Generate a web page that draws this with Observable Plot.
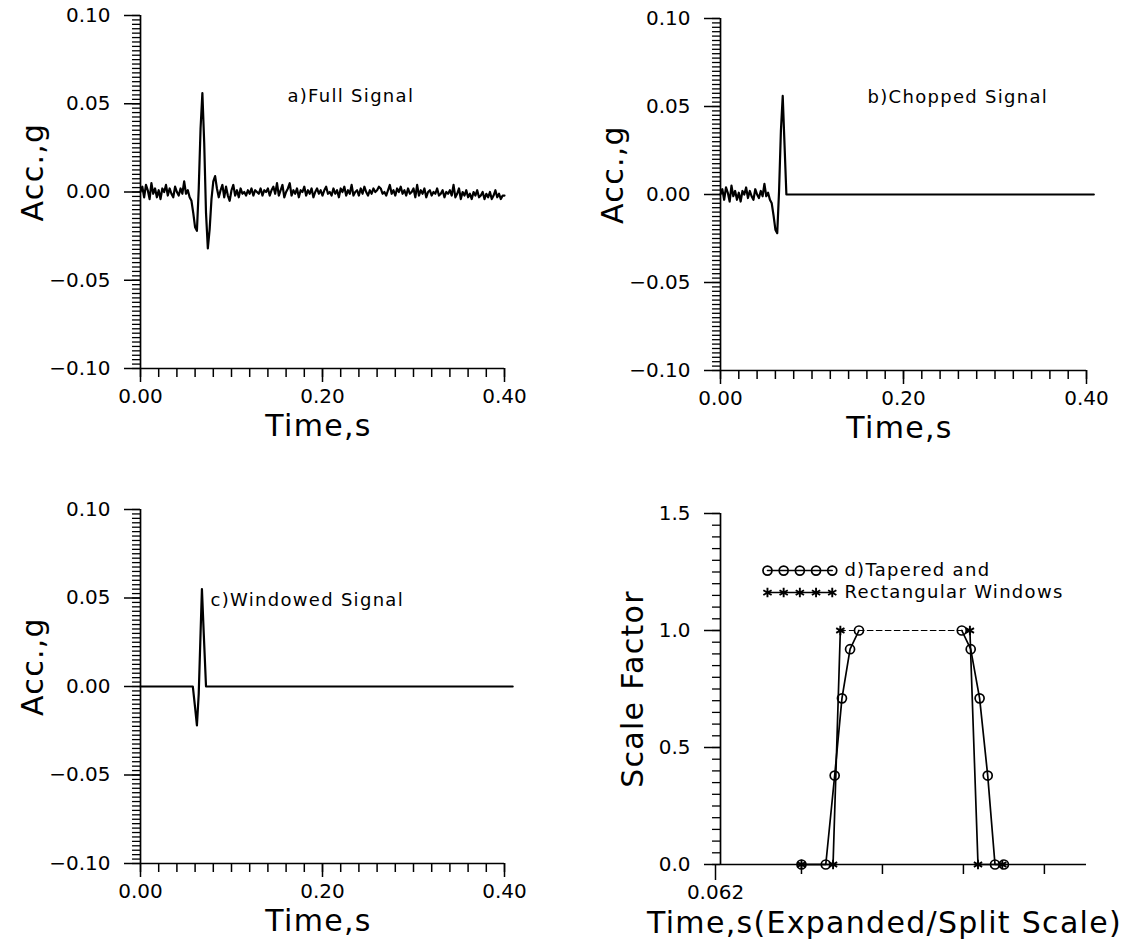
<!DOCTYPE html>
<html>
<head>
<meta charset="utf-8">
<script src="https://cdn.jsdelivr.net/npm/d3@7"></script>
<script src="https://cdn.jsdelivr.net/npm/@observablehq/plot@0.6"></script>
<style>
  body { margin: 0; background: #fff; }
  #root { position: relative; width: 1133px; height: 947px; overflow: hidden; background: #fff; }
  .panel { position: absolute; }
  #root svg g[aria-label="text"] text { letter-spacing: 1.3px; }
</style>
</head>
<body>
<div id="root"></div>
<script>
// ---------------- DATA ----------------
// a) full signal, sampled every 0.002 s from 0.000 to 0.400 s (values in g, read from the picture)
const sampleStep = 0.002;
const fullSignal = [
  0.000, 0.003, -0.003, 0.004, 0.001, -0.004, 0.005, -0.001, 0.002, -0.003,
  0.001, -0.004, 0.002, 0.000, 0.004, -0.002, 0.002, -0.001, -0.003, 0.003,
  0.000, -0.002, 0.002, -0.001, 0.006, -0.001, 0.001, -0.003, -0.005, -0.012,
  -0.020, -0.022, 0.002, 0.036, 0.056, 0.028, -0.012, -0.032, -0.021, -0.004,
  0.006, 0.009, 0.002, -0.003, 0.001, 0.004, -0.003, 0.003, -0.002, -0.005,
  0.001, 0.004, -0.002, 0.001, -0.003, 0.002, -0.001, 0.000, -0.002, 0.001,
  -0.001, 0.002, -0.002, 0.001, 0.000, -0.001, 0.002, -0.002, 0.001, 0.000,
  0.002, -0.002, 0.001, 0.003, -0.001, 0.005, -0.002, 0.001, 0.004, -0.003,
  0.000, 0.002, 0.005, -0.002, 0.001, -0.001, 0.002, -0.003, 0.001, 0.000,
  0.003, -0.002, 0.001, -0.001, 0.002, -0.003, 0.000, 0.002, -0.001, 0.001,
  -0.002, 0.001, 0.003, -0.001, 0.000, -0.002, 0.002, -0.001, 0.001, -0.003,
  0.002, 0.000, 0.003, -0.002, 0.001, -0.001, 0.004, -0.002, 0.000, 0.001,
  -0.002, 0.002, -0.001, 0.003, 0.000, -0.002, 0.001, -0.001, 0.002, 0.000,
  0.001, 0.003, 0.002, -0.001, 0.000, -0.002, 0.001, 0.004, -0.001, 0.001,
  -0.002, 0.002, 0.000, 0.003, -0.001, 0.001, -0.002, 0.002, -0.001, 0.000,
  0.002, -0.003, 0.004, -0.002, 0.001, -0.001, 0.002, -0.003, 0.000, 0.001,
  -0.002, 0.000, -0.001, 0.002, -0.002, -0.001, 0.001, -0.003, 0.000, -0.001,
  0.001, -0.002, 0.004, -0.003, -0.001, 0.002, -0.004, 0.000, -0.002, 0.001,
  -0.003, -0.001, -0.004, 0.000, -0.002, 0.001, -0.003, -0.002, 0.000, -0.004,
  -0.001, -0.003, 0.000, -0.004, -0.002, 0.001, -0.003, -0.001, -0.004, -0.002, -0.002
];

// b) chopped signal: the full signal up to its peak, then these tail points
const chopLastTime = 0.068;
const chopTailTimes  = [0.070, 0.072, 0.408];
const chopTailValues = [0.028, 0.000, 0.000];

// c) windowed signal
const windowTimes  = [0, 0.0575, 0.060, 0.062, 0.064, 0.066, 0.0675, 0.0695, 0.072, 0.409];
const windowValues = [0, 0, -0.012, -0.022, -0.004, 0.030, 0.055, 0.030, 0, 0];

// d) windows on an expanded / split time scale (positions in tick units)
const taperPos    = [1.00, 1.30, 1.41, 1.50, 1.60, 1.71, 2.98, 3.09, 3.20, 3.30, 3.39, 3.50];
const taperFactor = [0, 0, 0.38, 0.71, 0.92, 1.00, 1.00, 0.92, 0.71, 0.38, 0, 0];
const rectPos     = [1.00, 1.39, 1.48, 3.08, 3.18, 3.48];
const rectFactor  = [0, 0, 1, 1, 0, 0];

// ticks and labels
const accMajorTicks = [-0.10, -0.05, 0.00, 0.05, 0.10];
const timeMajorTicks = [0.00, 0.20, 0.40];
const scaleMajorTicks = [0.0, 0.5, 1.0, 1.5];
const splitTicks = [0, 1, 2, 3, 4];
const splitTickLabels = ["0.062"];
const panelNotes = ["a)Full Signal", "b)Chopped Signal", "c)Windowed Signal"];
const legendLabels = ["d)Tapered and", "Rectangular Windows"];

// ---------------- BUILD ----------------
const FONT = "'DejaVu Sans', sans-serif";
const fmt = (d, k) => (d < 0 ? "\u2212" : "") + Math.abs(d).toFixed(k);
const root = document.getElementById("root");

const fullRows = fullSignal.map((v, i) => ({t: i * sampleStep, v}));
const chopRows = fullRows.filter(r => r.t <= chopLastTime + 1e-9)
  .concat(chopTailTimes.map((t, i) => ({t, v: chopTailValues[i]})));
const windowRows = windowTimes.map((t, i) => ({t, v: windowValues[i]}));

const accMinor = d3.range(-0.1, 0.10001, 0.0025);
const timeMinor = d3.range(0, 0.40001, 0.02);

function place(svg, left, top) {
  const div = document.createElement("div");
  div.className = "panel";
  div.style.left = left + "px";
  div.style.top = top + "px";
  div.appendChild(svg);
  root.appendChild(div);
}

const baseStyle = {fontFamily: FONT, fontSize: "20px", color: "black", background: "white", overflow: "visible"};

function accPanel(rows, note, box) {
  return Plot.plot({
    width: box.w, height: box.h,
    marginLeft: box.ml, marginRight: box.mr, marginTop: box.mt, marginBottom: box.mb,
    x: {domain: [0, 0.4]},
    y: {domain: [-0.1, 0.1]},
    style: baseStyle,
    marks: [
      Plot.axisY(accMinor, {tickSize: 8, tickFormat: () => "", label: null, strokeWidth: 1.3}),
      Plot.axisY(accMajorTicks, {tickSize: 16, tickPadding: 14, tickFormat: d => fmt(d, 2), label: null, strokeWidth: 1.5}),
      Plot.axisX(timeMinor, {tickSize: 9, tickFormat: () => "", label: null, strokeWidth: 1.5}),
      Plot.axisX(timeMajorTicks, {tickSize: 14, tickPadding: 6, tickFormat: d => fmt(d, 2), label: null, strokeWidth: 1.5}),
      Plot.ruleX([0], {strokeWidth: 1.7}),
      Plot.ruleY([-0.1], {strokeWidth: 1.7}),
      Plot.line(rows, {x: "t", y: "v", strokeWidth: 2.2}),
      Plot.text([note], {x: d => note.x, y: d => note.y, text: d => note.text, textAnchor: "start", fontSize: 18}),
      Plot.text(["Acc.,g"], {frameAnchor: "left", textAnchor: "middle", lineAnchor: "middle", rotate: -90, dx: -107, dy: box.ylabDy, fontSize: 30}),
      Plot.text(["Time,s"], {frameAnchor: "bottom", textAnchor: "middle", lineAnchor: "middle", dx: -4, dy: 58, fontSize: 30})
    ]
  });
}

place(accPanel(fullRows, {text: panelNotes[0], x: 0.1615, y: 0.0545},
  {w: 566, h: 450, ml: 140, mr: 62, mt: 15, mb: 82, ylabDy: -20}), 0, 0);
place(accPanel(chopRows, {text: panelNotes[1], x: 0.1607, y: 0.0551},
  {w: 567, h: 450, ml: 154, mr: 47, mt: 18, mb: 80, ylabDy: -20}), 566, 0);
place(accPanel(windowRows, {text: panelNotes[2], x: 0.0769, y: 0.0486},
  {w: 566, h: 497, ml: 140, mr: 62, mt: 59, mb: 84, ylabDy: -20}), 0, 450);

// panel d
const taperRows = taperPos.map((x, i) => ({x, y: taperFactor[i]}));
const rectRows = rectPos.map((x, i) => ({x, y: rectFactor[i]}));
function split(rows) {
  const first = rows.findIndex(r => r.y === 1);
  let last = -1; rows.forEach((r, i) => { if (r.y === 1) last = i; });
  return {rise: rows.slice(0, first + 1), top: rows.slice(first, last + 1), fall: rows.slice(last)};
}
const tp = split(taperRows), rp = split(rectRows);

// legend samples: 5 symbols per row, in data units of the panel
const legendRowY = [1.256, 1.162];
const legendRows = [];
legendLabels.forEach((label, j) => {
  d3.range(5).forEach(k => legendRows.push({x: 0.58 + k * 0.2, y: legendRowY[j], series: j}));
});
const legendText = legendLabels.map((label, j) => ({label, x: 1.53, y: legendRowY[j]}));

const dPlot = Plot.plot({
  width: 567, height: 497,
  marginLeft: 154, marginRight: 47, marginTop: 63, marginBottom: 83,
  x: {domain: [0, 4.52]},
  y: {domain: [0, 1.5]},
  style: baseStyle,
  marks: [
    Plot.axisY(d3.range(0, 1.50001, 0.05), {tickSize: 8, tickFormat: () => "", label: null, strokeWidth: 1.3}),
    Plot.axisY(scaleMajorTicks, {tickSize: 16, tickPadding: 14, tickFormat: d => fmt(d, 1), label: null, strokeWidth: 1.5}),
    Plot.axisX(splitTicks.slice(1), {tickSize: 10, tickFormat: () => "", label: null, strokeWidth: 1.5}),
    Plot.axisX(splitTicks.slice(0, 1), {tickSize: 16, tickPadding: 4, dx: -5, tickFormat: (d, i) => splitTickLabels[i], label: null, strokeWidth: 1.5}),
    Plot.ruleX([0], {strokeWidth: 1.7}),
    Plot.ruleY([0], {strokeWidth: 1.7}),
    Plot.line(tp.rise, {x: "x", y: "y", strokeWidth: 1.7}),
    Plot.line(tp.fall, {x: "x", y: "y", strokeWidth: 1.7}),
    Plot.line(tp.top, {x: "x", y: "y", strokeWidth: 1.2, strokeDasharray: "5,4"}),
    Plot.line(rp.rise, {x: "x", y: "y", strokeWidth: 1.7}),
    Plot.line(rp.fall, {x: "x", y: "y", strokeWidth: 1.7}),
    Plot.line(rp.top, {x: "x", y: "y", strokeWidth: 1.2, strokeDasharray: "5,4"}),
    Plot.dot(taperRows, {x: "x", y: "y", r: 4.5, stroke: "black", fill: "none", strokeWidth: 1.7}),
    Plot.dot(rectRows, {x: "x", y: "y", r: 4.5, symbol: "asterisk", stroke: "black", strokeWidth: 1.9}),
    // legend
    Plot.line(legendRows, {x: "x", y: "y", z: "series", strokeWidth: 1.5}),
    Plot.dot(legendRows.filter(d => d.series === 0), {x: "x", y: "y", r: 4.5, stroke: "black", fill: "none", strokeWidth: 1.7}),
    Plot.dot(legendRows.filter(d => d.series === 1), {x: "x", y: "y", r: 4.5, symbol: "asterisk", stroke: "black", strokeWidth: 1.9}),
    Plot.text(legendText, {x: "x", y: "y", text: "label", textAnchor: "start", fontSize: 18}),
    Plot.text(["Scale Factor"], {frameAnchor: "left", textAnchor: "middle", lineAnchor: "middle", rotate: -90, dx: -87, dy: 0, fontSize: 30}),
    Plot.text(["Time,s(Expanded/Split Scale)"], {frameAnchor: "bottom", textAnchor: "middle", lineAnchor: "middle", dx: -19, dy: 59, fontSize: 30})
  ]
});
place(dPlot, 566, 450);
</script>
</body>
</html>
